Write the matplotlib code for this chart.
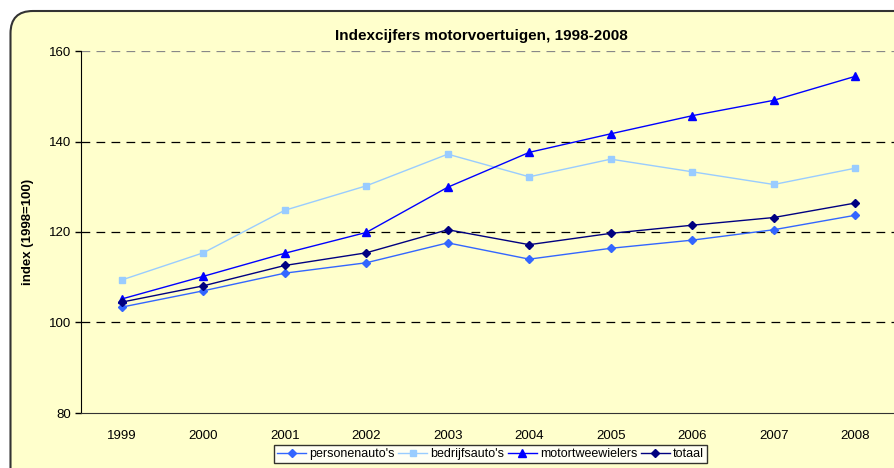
import matplotlib
matplotlib.use("Agg")
import matplotlib.pyplot as plt
from matplotlib.patches import FancyBboxPatch

years = ["1999", "2000", "2001", "2002", "2003", "2004", "2005", "2006", "2007", "2008"]
personenautos = [103.4, 107.0, 110.9, 113.2, 117.6, 114.0, 116.4, 118.2, 120.5, 123.7]
bedrijfsautos = [109.4, 115.4, 124.8, 130.2, 137.2, 132.2, 136.1, 133.3, 130.5, 134.1]
motortweewielers = [105.2, 110.2, 115.3, 119.9, 129.9, 137.6, 141.7, 145.7, 149.1, 154.4]
totaal = [104.5, 108.1, 112.6, 115.4, 120.5, 117.2, 119.7, 121.5, 123.2, 126.4]
series_labels = ["personenauto's", "bedrijfsauto's", "motortweewielers", "totaal"]
yticks = [80, 100, 120, 140, 160]

plt.rcParams['font.family'] = ['Liberation Sans', 'DejaVu Sans']

W, H = 895, 468
fig = plt.figure(figsize=(W / 100, H / 100), dpi=100)
fig.patch.set_facecolor("white")

bg = "#FFFFCC"
frame = FancyBboxPatch((10.5 / W, 1 - 468.0 / H - 0.05), (W + 20) / W, (468 - 11 + 0) / H + 0.05,
                       boxstyle="round,pad=0,rounding_size=0.025",
                       transform=fig.transFigure, facecolor=bg, edgecolor="#333333",
                       linewidth=1.5, zorder=0, mutation_aspect=W / H)
fig.patches.append(frame)

left, right, top, bottom = 81, 896, 51, 413
ax = fig.add_axes([left / W, 1 - bottom / H, (right - left) / W, (bottom - top) / H])
ax.set_zorder(2)
ax.set_facecolor(bg)

x = list(range(1, len(years) + 1))
ax.plot(x, personenautos, color="#3366FF", marker="D", markersize=4.5, linewidth=1.0,
        label=series_labels[0], zorder=3)
ax.plot(x, bedrijfsautos, color="#99CCFF", marker="s", markersize=5, linewidth=1.0,
        label=series_labels[1], zorder=3)
ax.plot(x, motortweewielers, color="#0000FF", marker="^", markersize=5.5, linewidth=1.0,
        label=series_labels[2], zorder=3)
ax.plot(x, totaal, color="#000080", marker="D", markersize=4.5, linewidth=1.0,
        label=series_labels[3], zorder=3)

ax.set_xlim(0.5, len(years) + 0.5)
ax.set_ylim(80, 160)
ax.set_yticks(yticks)
ax.set_yticklabels([str(v) for v in yticks], fontsize=9.5)
ax.set_xticks(x)
ax.set_xticklabels(years, fontsize=9.5)
ax.tick_params(axis="x", length=0, pad=12)
ax.tick_params(axis="y", length=4, width=1, direction="out", pad=3)

for v in [100, 120, 140]:
    ax.axhline(v, color="black", linewidth=0.9, linestyle=(0, (7, 5)), zorder=1)
ax.axhline(160, color="#888888", linewidth=0.9, linestyle=(0, (7, 5)), zorder=1)

for s in ["top", "right"]:
    ax.spines[s].set_visible(False)
ax.spines["left"].set_color("black")
ax.spines["bottom"].set_color("#333333")

ax.set_ylabel("index (1998=100)", fontsize=9.5, fontweight="bold", labelpad=11)
fig.text(481 / W, 1 - 36 / H, "Indexcijfers motorvoertuigen, 1998-2008",
         ha="center", va="center", fontsize=11, fontweight="bold", zorder=3)

leg = fig.legend(loc="upper left", bbox_to_anchor=(274 / W, 1 - 445 / H), ncol=4,
                 frameon=True, fontsize=9, handlelength=2.3, handletextpad=0.25,
                 columnspacing=0.3, borderpad=0.25, fancybox=False, borderaxespad=0)
leg.get_frame().set_edgecolor("black")
leg.get_frame().set_linewidth(1.0)
leg.get_frame().set_facecolor("white")
leg.set_zorder(5)

fig.savefig("out.png", dpi=100, facecolor="white")
